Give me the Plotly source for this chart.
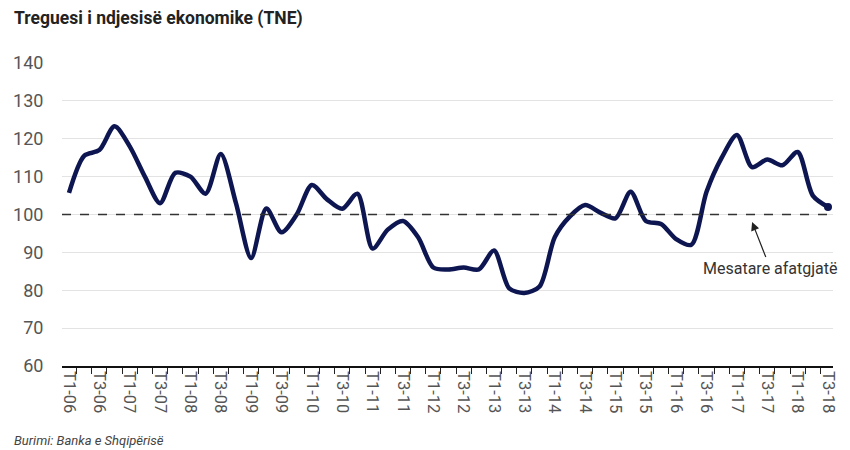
import plotly.graph_objects as go

# Quarterly labels T1-06 ... T3-18
quarters = [f"T{q}-{y:02d}" for y in range(6, 19) for q in (1, 2, 3, 4)][:51]

tne = [105.7, 115.5, 117.0, 123.3, 118.0, 110.0, 103.0, 111.0, 110.0, 105.5,
       116.0, 103.0, 88.5, 101.6, 95.3, 100.0, 107.8, 104.0, 101.5, 105.5,
       91.0, 96.0, 98.3, 94.0, 86.0, 85.5, 86.0, 85.5, 90.5, 80.5,
       79.3, 81.0, 94.0, 99.5, 102.5, 100.5, 99.0, 106.0, 98.3, 97.5,
       93.5, 92.0, 106.0, 115.0, 121.0, 112.5, 114.5, 113.0, 116.5, 105.0,
       102.0]

long_term_avg = 100
y_ticks = [60, 70, 80, 90, 100, 110, 120, 130, 140]
tick_idx = list(range(0, len(quarters), 2))
tick_text = [quarters[i] for i in tick_idx]

TFONT = "Roboto, sans-serif"
NAVY = "#0d1650"

# plot area in pixels (for placing paper-referenced text)
L, R, T, B = 62, 833, 63, 366
def px(xp):
    return (xp - L) / (R - L)
def py(yp):
    return (B - yp) / (B - T)

x = list(range(len(tne)))

fig = go.Figure()
fig.add_trace(go.Scatter(
    x=x, y=tne, mode="lines",
    line=dict(color=NAVY, width=4.5, shape="spline", smoothing=0.8),
    hoverinfo="skip", showlegend=False))
fig.add_trace(go.Scatter(
    x=[x[-1]], y=[tne[-1]], mode="markers",
    marker=dict(color=NAVY, size=8), showlegend=False, hoverinfo="skip"))

fig.add_shape(type="line", xref="paper", x0=0, x1=1, yref="y",
              y0=long_term_avg, y1=long_term_avg,
              line=dict(color="#333333", width=1.6, dash="dash"), layer="above")

fig.add_annotation(
    x=45.0, y=98.0, xref="x", yref="y",
    text="Mesatare afatgjatë", showarrow=True,
    arrowhead=2, arrowsize=1.4, arrowwidth=1.2, arrowcolor="#222222",
    ax=18, ay=46, font=dict(family=TFONT, size=16, color="#333333"))

fig.add_annotation(
    x=px(12), y=py(18), xref="paper", yref="paper",
    xanchor="left", yanchor="middle", showarrow=False,
    text="<b>Treguesi i ndjesisë ekonomike (TNE)</b>",
    font=dict(family=TFONT, size=17.5, color="#222222"))

fig.add_annotation(
    x=px(12), y=py(440), xref="paper", yref="paper",
    xanchor="left", yanchor="middle", showarrow=False,
    text="<i>Burimi: Banka e Shqipërisë</i>",
    font=dict(family=TFONT, size=13, color="#444444"))

fig.update_layout(
    width=850, height=450,
    margin=dict(l=L, r=850 - R, t=T, b=450 - B, autoexpand=False),
    paper_bgcolor="white", plot_bgcolor="white",
    font=dict(family=TFONT, color="#555555"),
)
fig.update_xaxes(
    range=[-0.46, 50.33], automargin=False,
    tickmode="array", tickvals=tick_idx, ticktext=tick_text,
    tickangle=90, tickfont=dict(family=TFONT, size=16.5, color="#555555"),
    ticks="outside", ticklen=0, tickcolor="#222222",
    minor=dict(tick0=-0.5, dtick=1, ticks="outside", ticklen=6, tickcolor="#222222", tickwidth=1, showgrid=False),
    showline=True, linecolor="#111111", linewidth=1.5,
    showgrid=False, zeroline=False)
fig.update_yaxes(
    range=[60, 140], tickvals=y_ticks, automargin=False,
    tickfont=dict(family=TFONT, size=18, color="#555555"),
    showgrid=True, gridcolor="#e3e3e3", gridwidth=1,
    zeroline=False, showline=False, ticks="outside", ticklen=14,
    tickcolor="rgba(0,0,0,0)")

fig.write_html("out.html", config={"displayModeBar": False},
               post_script="document.body.style.margin='0';")
